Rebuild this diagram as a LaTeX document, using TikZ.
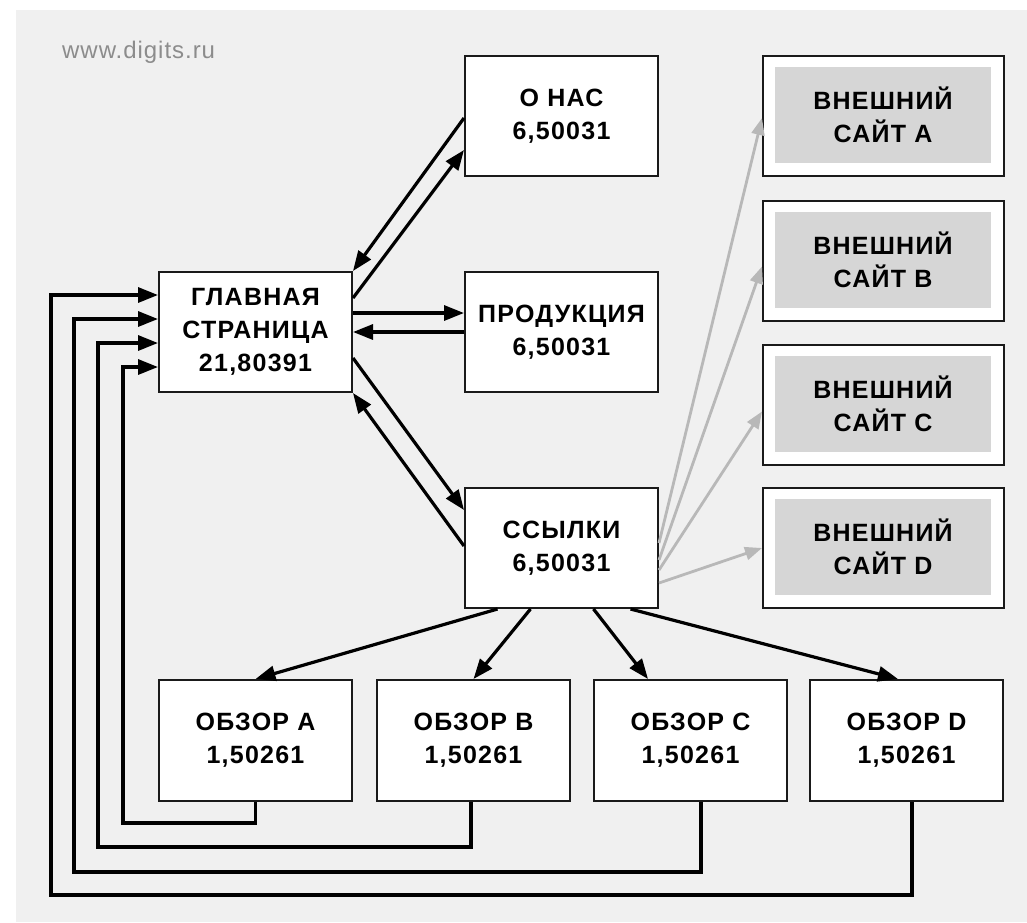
\documentclass[tikz,border=0pt]{standalone}
\usepackage{fontspec}
\setmainfont{Liberation Sans}[LetterSpace=4]
\newfontfamily\boxfont{Liberation Sans}[LetterSpace=5]
\usetikzlibrary{arrows.meta}
\definecolor{bggray}{HTML}{F0F0F0}
\definecolor{innergray}{HTML}{D6D6D6}
\definecolor{linkgray}{HTML}{B8B8B8}
\definecolor{wmgray}{HTML}{8C8C8C}
\definecolor{boxline}{HTML}{1A1A1A}
\begin{document}
\begin{tikzpicture}[x=1pt,y=-1pt,
  page/.style={draw=boxline, line width=2pt, fill=white, minimum width=193pt,
    minimum height=120pt, inner sep=0pt, align=center,
    font=\boxfont\fontsize{25}{33}\selectfont\bfseries},
  extouter/.style={draw=boxline, line width=2pt, fill=white, minimum width=241pt,
    minimum height=120pt, inner sep=0pt},
  extinner/.style={fill=innergray, minimum width=216pt, minimum height=96pt,
    inner sep=0pt, align=center, font=\boxfont\fontsize{25}{33}\selectfont\bfseries},
  arr/.style={line width=3.2pt, draw=black, -{Triangle[length=20pt,width=15pt]}},
  garr/.style={line width=2.8pt, draw=linkgray, -{Triangle[length=17pt,width=13pt]}},
  loopline/.style={line width=3.2pt, draw=black, -{Triangle[length=20pt,width=15pt]}}
]
\useasboundingbox (0,0) rectangle (1027,922);
\fill[white] (0,0) rectangle (1027,922);
\fill[bggray] (16,10) rectangle (1027,922);

\node[anchor=base west, text=wmgray, inner sep=0pt,
  font=\fontsize{24}{28}\selectfont] (wm) at (62,58) {www.digits.ru};

% main pages
\node[page] (main)  at (255.5,332) {ГЛАВНАЯ\\СТРАНИЦА\\21,80391};
\node[page] (onas)  at (561.5,116) {О НАС\\6,50031};
\node[page] (prod)  at (561.5,332) {ПРОДУКЦИЯ\\6,50031};
\node[page] (links) at (561.5,548) {ССЫЛКИ\\6,50031};
\node[page, minimum height=121pt] (oa) at (255.5,740.5) {ОБЗОР A\\1,50261};
\node[page, minimum height=121pt] (ob) at (473.5,740.5) {ОБЗОР B\\1,50261};
\node[page, minimum height=121pt] (oc) at (690.5,740.5) {ОБЗОР C\\1,50261};
\node[page, minimum height=121pt] (od) at (906.5,740.5) {ОБЗОР D\\1,50261};

% external sites
\node[extouter] (ea) at (883.5,116) {};
\node[extinner] (eai) at (883,115) {ВНЕШНИЙ\\САЙТ A};
\node[extouter] (eb) at (883.5,260.5) {};
\node[extinner] (ebi) at (883,259.5) {ВНЕШНИЙ\\САЙТ B};
\node[extouter] (ec) at (883.5,404.5) {};
\node[extinner] (eci) at (883,403.5) {ВНЕШНИЙ\\САЙТ C};
\node[extouter] (ed) at (883.5,548) {};
\node[extinner] (edi) at (883,547) {ВНЕШНИЙ\\САЙТ D};

% arrows between main and first level
\draw[arr] ([yshift=34pt]main.east) -- ([yshift=-34pt]onas.west);
\draw[arr] ([yshift=-2pt]onas.west) -- (main.north east);
\draw[arr] ([yshift=19pt]main.east) -- ([yshift=19pt]prod.west);
\draw[arr] (prod.west) -- (main.east);
\draw[arr] ([yshift=-26pt]main.east) -- ([yshift=38pt]links.west);
\draw[arr] ([yshift=2pt]links.west) -- (main.south east);

% links to reviews
\draw[arr] ([xshift=-64pt]links.south) -- (oa.north);
\draw[arr] ([xshift=-31pt]links.south) -- (ob.north);
\draw[arr] ([xshift=32pt]links.south) -- ([xshift=-42.5pt]oc.north);
\draw[arr] ([xshift=69pt]links.south) -- ([xshift=-8.5pt]od.north);

% external links
\draw[garr] ([yshift=5pt]links.east) -- ([yshift=-2pt]ea.west);
\draw[garr] ([yshift=-12pt]links.east) -- ([yshift=-6pt]eb.west);
\draw[garr] ([yshift=-22pt]links.east) -- ([yshift=-7pt]ec.west);
\draw[garr] ([yshift=-35pt]links.east) -- (ed.west);

% return loops
\coordinate (la) at (123,823);
\coordinate (lb) at (98,847);
\coordinate (lc) at (74,872);
\coordinate (ld) at (51,895);
\draw[loopline] (oa.south) |- (la) |- ([yshift=-35pt]main.west);
\draw[loopline] ([xshift=-2.5pt]ob.south) |- (lb) |- ([yshift=-11pt]main.west);
\draw[loopline] ([xshift=10.5pt]oc.south) |- (lc) |- ([yshift=13pt]main.west);
\draw[loopline] ([xshift=5.5pt]od.south) |- (ld) |- ([yshift=37pt]main.west);
\end{tikzpicture}
\end{document}
